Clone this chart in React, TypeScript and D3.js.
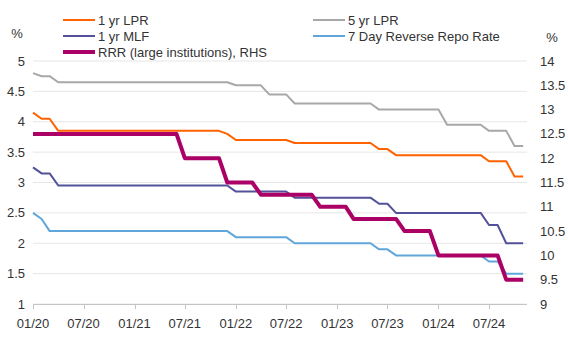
import React from "react";
import * as d3 from "d3";

const startYear = 2020;
const lpr1y = [4.15,4.05,4.05,3.85,3.85,3.85,3.85,3.85,3.85,3.85,3.85,3.85,3.85,3.85,3.85,3.85,3.85,3.85,3.85,3.85,3.85,3.85,3.85,3.80,3.70,3.70,3.70,3.70,3.70,3.70,3.70,3.65,3.65,3.65,3.65,3.65,3.65,3.65,3.65,3.65,3.65,3.55,3.55,3.45,3.45,3.45,3.45,3.45,3.45,3.45,3.45,3.45,3.45,3.45,3.35,3.35,3.35,3.10,3.10];
const lpr5y = [4.80,4.75,4.75,4.65,4.65,4.65,4.65,4.65,4.65,4.65,4.65,4.65,4.65,4.65,4.65,4.65,4.65,4.65,4.65,4.65,4.65,4.65,4.65,4.65,4.60,4.60,4.60,4.60,4.45,4.45,4.45,4.30,4.30,4.30,4.30,4.30,4.30,4.30,4.30,4.30,4.30,4.20,4.20,4.20,4.20,4.20,4.20,4.20,4.20,3.95,3.95,3.95,3.95,3.95,3.85,3.85,3.85,3.60,3.60];
const mlf1y = [3.25,3.15,3.15,2.95,2.95,2.95,2.95,2.95,2.95,2.95,2.95,2.95,2.95,2.95,2.95,2.95,2.95,2.95,2.95,2.95,2.95,2.95,2.95,2.95,2.85,2.85,2.85,2.85,2.85,2.85,2.85,2.75,2.75,2.75,2.75,2.75,2.75,2.75,2.75,2.75,2.75,2.65,2.65,2.50,2.50,2.50,2.50,2.50,2.50,2.50,2.50,2.50,2.50,2.50,2.30,2.30,2.00,2.00,2.00];
const repo7d = [2.50,2.40,2.20,2.20,2.20,2.20,2.20,2.20,2.20,2.20,2.20,2.20,2.20,2.20,2.20,2.20,2.20,2.20,2.20,2.20,2.20,2.20,2.20,2.20,2.10,2.10,2.10,2.10,2.10,2.10,2.10,2.00,2.00,2.00,2.00,2.00,2.00,2.00,2.00,2.00,2.00,1.90,1.90,1.80,1.80,1.80,1.80,1.80,1.80,1.80,1.80,1.80,1.80,1.80,1.70,1.70,1.50,1.50,1.50];
const rrrLarge = [12.5,12.5,12.5,12.5,12.5,12.5,12.5,12.5,12.5,12.5,12.5,12.5,12.5,12.5,12.5,12.5,12.5,12.5,12.0,12.0,12.0,12.0,12.0,11.5,11.5,11.5,11.5,11.25,11.25,11.25,11.25,11.25,11.25,11.25,11.0,11.0,11.0,11.0,10.75,10.75,10.75,10.75,10.75,10.75,10.5,10.5,10.5,10.5,10.0,10.0,10.0,10.0,10.0,10.0,10.0,10.0,9.5,9.5,9.5];

const leftTicks = [1, 1.5, 2, 2.5, 3, 3.5, 4, 4.5, 5];
const rightTicks = [9, 9.5, 10, 10.5, 11, 11.5, 12, 12.5, 13, 13.5, 14];
const xTickLabels = ["01/20","07/20","01/21","07/21","01/22","07/22","01/23","07/23","01/24","07/24"];

const seriesNames = ["1 yr LPR", "5 yr LPR", "1 yr MLF", "7 Day Reverse Repo Rate", "RRR (large institutions), RHS"];
const seriesColors = ["#FF6200", "#A8A8A8", "#525199", "#60A6DA", "#AB0066"];

const monthDate = (i: number) => new Date(Date.UTC(startYear, i, 1));

export default function App() {
  const W = 568, H = 341;
  const plotL = 33, plotR = 527, plotT = 61, plotB = 304;
  const x = d3.scaleUtc().domain([monthDate(0), monthDate(54)]).range([33, 489]);
  const yL = d3.scaleLinear().domain([1, 5]).range([plotB, plotT]);
  const yR = d3.scaleLinear().domain([9, 14]).range([plotB, plotT]);
  const font = "'Liberation Sans', Arial, sans-serif";
  const txt = "#333";

  const mk = (vals: number[], y: d3.ScaleLinear<number, number>) =>
    d3.line<number>().x((_, i) => x(monthDate(i))).y(v => y(v))(vals) || "";

  const lines = [
    { d: mk(lpr1y, yL), c: seriesColors[0], w: 2 },
    { d: mk(lpr5y, yL), c: seriesColors[1], w: 2 },
    { d: mk(mlf1y, yL), c: seriesColors[2], w: 2 },
    { d: mk(repo7d, yL), c: seriesColors[3], w: 2 },
    { d: mk(rrrLarge, yR), c: seriesColors[4], w: 4 },
  ];

  const xTicks = xTickLabels.map((lab, k) => ({ lab, date: monthDate(k * 6) }));

  const legend = [
    { i: 0, lx: 63, ly: 20 },
    { i: 1, lx: 313, ly: 20 },
    { i: 2, lx: 63, ly: 36 },
    { i: 3, lx: 313, ly: 36 },
    { i: 4, lx: 63, ly: 52 },
  ];

  return (
    <svg width={W} height={H} style={{ position: "absolute", left: 0, top: 0, background: "#fff" }} fontFamily={font}>
      {leftTicks.map(t => (
        <line key={"g" + t} x1={plotL} x2={plotR} y1={yL(t)} y2={yL(t)} stroke="#E6E6E6" strokeWidth={1} />
      ))}
      <line x1={plotL} x2={plotR} y1={plotB + 0.5} y2={plotB + 0.5} stroke="#C4C4C4" strokeWidth={1} />
      {xTicks.map(t => (
        <g key={t.lab}>
          <line x1={Math.round(x(t.date)) + 0.5} x2={Math.round(x(t.date)) + 0.5} y1={plotB} y2={plotB + 5} stroke="#C4C4C4" />
          <text x={x(t.date)} y={323} textAnchor="middle" dominantBaseline="central" fontSize={13} fill={txt}>{t.lab}</text>
        </g>
      ))}
      {leftTicks.map(t => (
        <text key={"l" + t} x={25} y={yL(t)} textAnchor="end" dominantBaseline="central" fontSize={13} fill={txt}>{t}</text>
      ))}
      {rightTicks.map(t => (
        <text key={"r" + t} x={540} y={yR(t)} textAnchor="start" dominantBaseline="central" fontSize={13} fill={txt}>{t}</text>
      ))}
      <text x={17} y={33} textAnchor="middle" dominantBaseline="central" fontSize={13} fill={txt}>%</text>
      <text x={552} y={37} textAnchor="middle" dominantBaseline="central" fontSize={13} fill={txt}>%</text>
      {lines.map((l, k) => (
        <path key={k} d={l.d} fill="none" stroke={l.c} strokeWidth={l.w} strokeLinejoin="round" />
      ))}
      {legend.map(g => (
        <g key={g.i}>
          <line x1={g.lx} x2={g.lx + 32} y1={g.ly} y2={g.ly} stroke={seriesColors[g.i]} strokeWidth={g.i === 4 ? 4 : 2} />
          <text x={g.lx + 35} y={g.ly} dominantBaseline="central" fontSize={13} fill={txt}>{seriesNames[g.i]}</text>
        </g>
      ))}
    </svg>
  );
}
